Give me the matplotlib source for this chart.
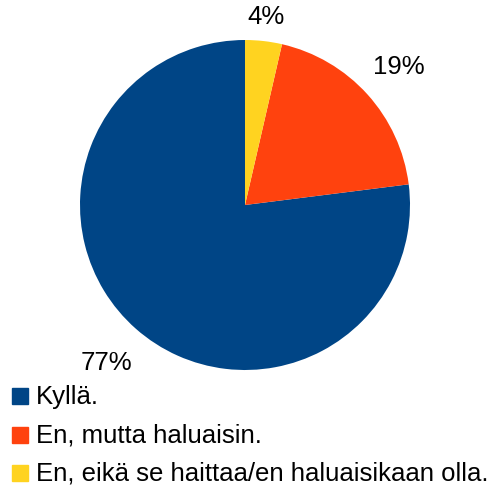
import matplotlib
matplotlib.use("Agg")
import matplotlib.pyplot as plt
from matplotlib.patches import Rectangle
import numpy as np

labels = ["Kyllä.", "En, mutta haluaisin.", "En, eikä se haittaa/en haluaisikaan olla."]
values = [77, 19.4, 3.6]
colors = ["#004586", "#ff420e", "#ffd320"]
pct_labels = ["77%", "19%", "4%"]
label_dist = [1.27, 1.26, 1.15]

plt.rcParams['font.family'] = ['Liberation Sans', 'DejaVu Sans']

W, H = 494, 489
fig = plt.figure(figsize=(W/100, H/100), dpi=100)
cx, cy, r = 245, 206, 165
ax = fig.add_axes([(cx - r)/W, (H - cy - r)/H, 2*r/W, 2*r/H])
wedges, _ = ax.pie(values, colors=colors, startangle=90, counterclock=True,
                   radius=1, wedgeprops=dict(linewidth=0))
ax.set_xlim(-1, 1)
ax.set_ylim(-1, 1)
ax.set_aspect('equal')
ax.axis('off')

for w, t, d in zip(wedges, pct_labels, label_dist):
    ang = np.deg2rad((w.theta1 + w.theta2) / 2)
    ax.text(d*np.cos(ang), d*np.sin(ang), t, ha='center', va='center',
            fontsize=18.5, color='black', clip_on=False)

row_y = [397, 436, 474]
for lab, col, y in zip(labels, colors, row_y):
    fig.patches.append(Rectangle((12/W, (H - y - 8)/H), 16/W, 16/H,
                                 transform=fig.transFigure, color=col))
    fig.text(36/W, (H - y)/H, lab, ha='left', va='center', fontsize=18.5, color='black')

fig.savefig("out.png", dpi=100)
